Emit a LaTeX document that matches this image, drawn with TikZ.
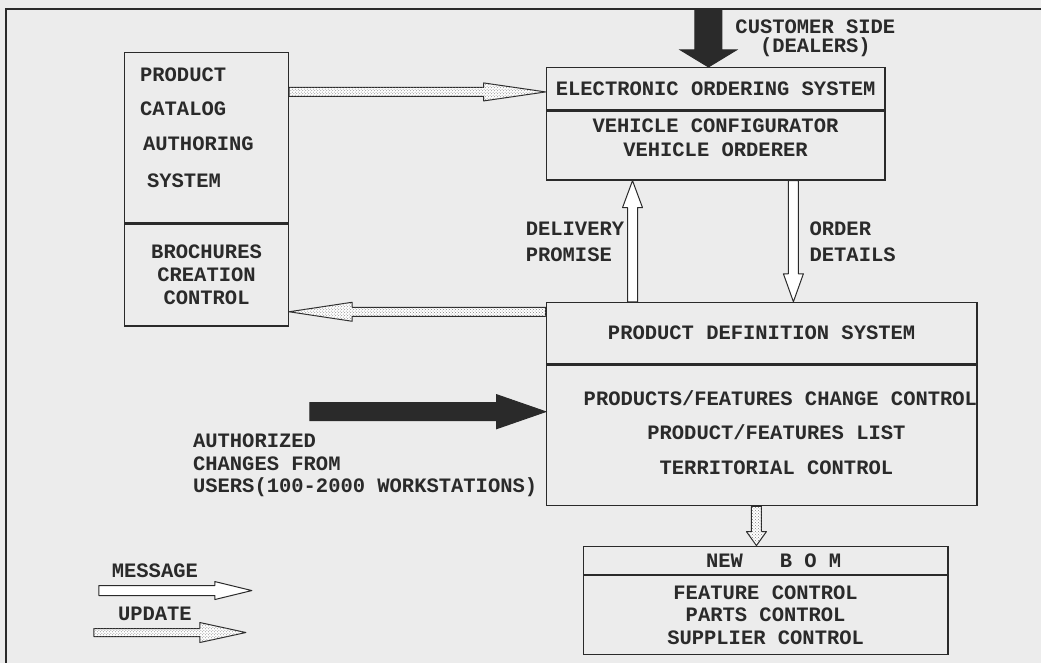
\documentclass[tikz,border=0pt]{standalone}
\usepackage{fontspec}
\setmonofont{Liberation Mono}
\usepackage{tikz}
\usetikzlibrary{positioning,calc,patterns}
\definecolor{SysBack}{HTML}{ECECEC}
\definecolor{SysInk}{HTML}{2A2A2A}
\definecolor{SysDots}{HTML}{808080}

% block arrow: style, from, to, half shaft, half head, head length
\newcommand{\blockarrow}[6]{%
  \coordinate (ba) at ($(#3)!#6!(#2)$);
  \draw[#1] ($(#2)!#4!90:(#3)$) -- ($(ba)!#4!-90:(#2)$) -- ($(ba)!#5!-90:(#2)$)
    -- (#3) -- ($(ba)!#5!90:(#2)$) -- ($(ba)!#4!90:(#2)$) -- ($(#2)!#4!-90:(#3)$) -- cycle;}

\begin{document}
\begin{tikzpicture}[x=1pt,y=-1pt]
  \tikzstyle{sysbox}=[draw=SysInk,line width=1.4pt,inner sep=0pt,align=center,
    font=\ttfamily\bfseries\fontsize{20.5}{23}\selectfont,text=SysInk]
  \tikzstyle{lbl}=[inner sep=0pt,font=\ttfamily\bfseries\fontsize{20.5}{24}\selectfont,text=SysInk]
  \tikzstyle{msg}=[draw=SysInk,line width=1pt,line join=round,fill=white]
  \tikzstyle{upd}=[draw=SysInk,line width=1pt,line join=round,fill=white,
    postaction={pattern=crosshatch dots,pattern color=SysDots}]
  \tikzstyle{feed}=[draw=SysInk,line width=1pt,fill=SysInk]
  \fill[SysBack] (0,0) rectangle (1042,663);
  \draw[SysInk,line width=1.6pt] (1042,9) -- (6,9) -- (6,663);

  % systems
  \node[sysbox,minimum width=164pt,minimum height=170pt,anchor=north west] (catt) at (124,52) {};
  \node[lbl,anchor=west,align=left] (cattxt) at (140,128)
    {PRODUCT\\[10pt]CATALOG\\[11pt]\hspace*{3pt}AUTHORING\\[13pt]\hspace*{7pt}SYSTEM};
  \node[sysbox,minimum width=164pt,minimum height=102pt,anchor=north] (catb) at (catt.south)
    {BROCHURES\\CREATION\\CONTROL};
  \node[sysbox,minimum width=339pt,minimum height=42pt,anchor=north west] (eost) at (546,67)
    {ELECTRONIC ORDERING SYSTEM};
  \node[sysbox,minimum width=339pt,minimum height=69pt,anchor=north] (eosb) at (eost.south) {};
  \node[lbl,align=center] (eostxt) at (716,138) {VEHICLE CONFIGURATOR\\VEHICLE ORDERER};
  \node[sysbox,minimum width=431pt,minimum height=61pt,anchor=north west] (pdst) at (546,302)
    {PRODUCT DEFINITION SYSTEM};
  \node[sysbox,minimum width=431pt,minimum height=141pt,anchor=north] (pdsb) at (pdst.south) {};
  \node[lbl,align=center] (pdstxt) at (777,433)
    {\hspace*{8pt}PRODUCTS/FEATURES CHANGE CONTROL\\[11pt]PRODUCT/FEATURES LIST\\[11pt]TERRITORIAL CONTROL};
  \node[sysbox,minimum width=365pt,minimum height=28pt,anchor=north west] (bomt) at (583,546)
    {\hspace*{16pt}NEW\ \ \ B\ O\ M};
  \node[sysbox,minimum width=365pt,minimum height=79pt,anchor=north,
    font=\ttfamily\bfseries\fontsize{20.5}{22.5}\selectfont] (bomb) at (bomt.south)
    {FEATURE CONTROL\\PARTS CONTROL\\SUPPLIER CONTROL};

  % labels
  \node[lbl,align=center,font=\ttfamily\bfseries\fontsize{20.5}{19}\selectfont] (cust) at (816,38)
    {CUSTOMER SIDE\\(DEALERS)};
  \node[lbl,anchor=west,align=left] (dlv) at (526,242) {DELIVERY\\[2pt]PROMISE};
  \node[lbl,anchor=west,align=left] (ord) at (810,242) {ORDER\\[2pt]DETAILS};
  \node[lbl,anchor=west,align=left,font=\ttfamily\bfseries\fontsize{20.5}{22.5}\selectfont] (auth) at (193,466)
    {AUTHORIZED\\CHANGES FROM\\USERS(100-2000 WORKSTATIONS)};
  \node[lbl] (msgl) at (155,571) {MESSAGE};
  \node[lbl] (updl) at (155,614) {UPDATE};

  % connectors
  \coordinate (custA) at (709,9);
  \coordinate (custB) at (custA |- eost.north);
  \blockarrow{feed}{custA}{custB}{13.5pt}{28pt}{17pt}
  \coordinate (authA) at (310,412);
  \coordinate (authB) at (authA -| pdsb.west);
  \blockarrow{feed}{authA}{authB}{9pt}{17pt}{49pt}
  \coordinate (yup) at (0,92);
  \coordinate (catA) at (catt.east |- yup);
  \coordinate (catB) at (eost.west |- yup);
  \blockarrow{upd}{catA}{catB}{4.5pt}{9pt}{62pt}
  \coordinate (ybro) at (0,312);
  \coordinate (broA) at (pdst.west |- ybro);
  \coordinate (broB) at (catb.east |- ybro);
  \blockarrow{upd}{broA}{broB}{4.5pt}{9.5pt}{63pt}
  \coordinate (xdlv) at (633,0);
  \coordinate (dlvA) at (xdlv |- pdst.north);
  \coordinate (dlvB) at (xdlv |- eosb.south);
  \blockarrow{msg}{dlvA}{dlvB}{5pt}{10pt}{27pt}
  \coordinate (xord) at (794,0);
  \coordinate (ordA) at (xord |- eosb.south);
  \coordinate (ordB) at (xord |- pdst.north);
  \blockarrow{msg}{ordA}{ordB}{5pt}{10pt}{28pt}
  \coordinate (xbom) at (757,0);
  \coordinate (bomA) at (xbom |- pdsb.south);
  \coordinate (bomB) at (xbom |- bomt.north);
  \blockarrow{upd}{bomA}{bomB}{5pt}{10pt}{14pt}

  % legend
  \coordinate (msgA) at (99,591);
  \coordinate (msgB) at (252,591);
  \blockarrow{msg}{msgA}{msgB}{5pt}{9pt}{37pt}
  \coordinate (updA) at (94,633);
  \coordinate (updB) at (246,633);
  \blockarrow{upd}{updA}{updB}{4pt}{10pt}{46pt}
\end{tikzpicture}
\end{document}
